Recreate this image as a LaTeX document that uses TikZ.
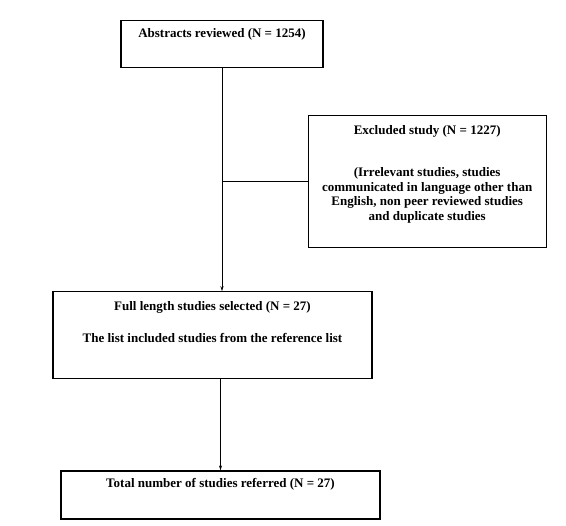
\documentclass[tikz,border=0pt]{standalone}
\usepackage{fontspec}
\setmainfont{Liberation Serif}
\usetikzlibrary{arrows.meta,positioning}
\tikzset{
  box/.style={draw, line width=1.2pt},
  txt/.style={font=\bfseries\fontsize{13}{14.7}\selectfont, align=center, inner sep=0pt, anchor=north},
  flow/.style={-{Stealth[length=5pt,width=3pt]}, line width=0.8pt},
  link/.style={line width=0.8pt}
}
\begin{document}
\begin{tikzpicture}[x=1pt,y=1pt]
  \useasboundingbox (0,0) rectangle (566,-526);
  \node[box,minimum width=202pt,minimum height=47pt,anchor=north] (abs) at (222,-20) {};
  \node[txt,below=8pt of abs.north] (abs-t) {Abstracts reviewed (N = 1254)};
  \node[box,minimum width=238pt,minimum height=132pt,below right=47pt and -16pt of abs.south east] (excl) {};
  \node[txt,below=10pt of excl.north] (excl-t) {Excluded study (N = 1227)\\[27.3pt](Irrelevant studies, studies\\communicated in language other than\\English, non peer reviewed studies\\and duplicate studies};
  \node[box,minimum width=319pt,minimum height=87pt,below=223pt of abs.south,xshift=-9.5pt] (full) {};
  \node[txt,below=10pt of full.north] (full-t) {Full length studies selected (N = 27)\\[17.3pt]The list included studies from the reference list};
  \node[box,minimum width=319pt,minimum height=48pt,below=91pt of full.south,xshift=8pt] (total) {};
  \node[txt,below=8pt of total.north] (total-t) {Total number of studies referred (N = 27)};
  \draw[flow] (abs.south) -- (abs.south |- full.north);
  \draw[link] (abs.south |- excl.west) -- (excl.west);
  \draw[flow] (total.north |- full.south) -- (total.north);
\end{tikzpicture}
\end{document}
